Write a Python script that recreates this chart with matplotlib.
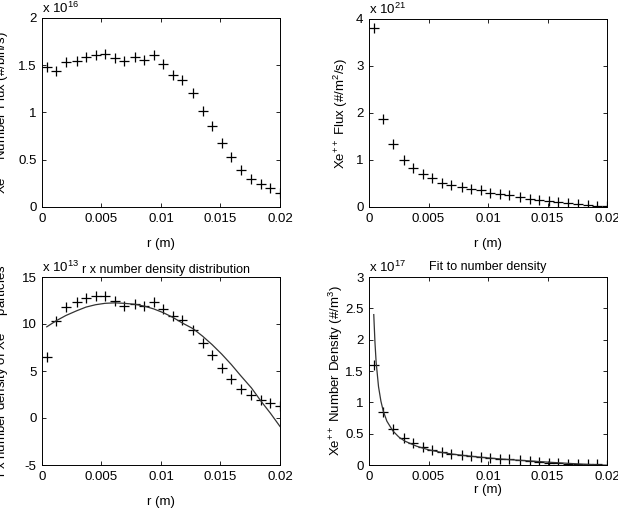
import matplotlib
matplotlib.use("Agg")
import matplotlib.pyplot as plt
from matplotlib.ticker import FuncFormatter

plt.rcParams['font.family'] = ['Liberation Sans', 'DejaVu Sans']
plt.rcParams['mathtext.fontset'] = 'custom'
plt.rcParams['mathtext.rm'] = 'Liberation Sans'
plt.rcParams['mathtext.it'] = 'Liberation Sans:italic'

# radial positions (m)
r = [0.0004, 0.0012, 0.0020, 0.0029, 0.0037, 0.0045, 0.0053, 0.0061, 0.0069,
     0.0078, 0.0086, 0.0094, 0.0102, 0.0110, 0.0118, 0.0127, 0.0135, 0.0143,
     0.0151, 0.0159, 0.0167, 0.0176, 0.0184, 0.0192, 0.0200]

# number flux, x 1e16 (#/bin/s)
number_flux = [1.48, 1.44, 1.53, 1.54, 1.59, 1.61, 1.62, 1.58, 1.55, 1.59, 1.56,
               1.61, 1.51, 1.40, 1.34, 1.21, 1.02, 0.86, 0.68, 0.53, 0.39, 0.30,
               0.24, 0.20, 0.15]

# flux, x 1e21 (#/m^2/s)
flux = [3.80, 1.87, 1.33, 1.00, 0.83, 0.70, 0.61, 0.52, 0.46, 0.43, 0.38, 0.36,
        0.30, 0.28, 0.25, 0.21, 0.17, 0.15, 0.12, 0.10, 0.08, 0.06, 0.04, 0.02, 0.02]

# r x number density, x 1e13
r_density = [6.5, 10.3, 11.8, 12.3, 12.8, 13.0, 13.0, 12.4, 11.9, 12.1, 11.9,
             12.3, 11.6, 10.9, 10.4, 9.4, 8.0, 6.7, 5.3, 4.1, 3.1, 2.4, 1.9, 1.6, 1.3]
# fitted r x number density curve, x 1e13
r_density_fit = [9.7, 10.35, 10.9, 11.4, 11.8, 12.05, 12.2, 12.25, 12.2, 12.1,
                 11.9, 11.6, 11.2, 10.7, 10.1, 9.5, 8.7, 7.8, 6.8, 5.7, 4.5,
                 3.2, 1.8, 0.5, -0.9]

# number density, x 1e17 (#/m^3)
density = [1.60, 0.84, 0.58, 0.43, 0.35, 0.29, 0.24, 0.20, 0.17, 0.155, 0.14,
           0.13, 0.115, 0.10, 0.09, 0.075, 0.06, 0.047, 0.035, 0.026, 0.019,
           0.014, 0.010, 0.008, 0.006]
# fitted number density curve
r_fit = [0.0004, 0.0005, 0.0006, 0.0008, 0.0010, 0.0012, 0.0015, 0.0020, 0.0025,
         0.0030, 0.0040, 0.0050, 0.0060, 0.0070, 0.0080, 0.0090, 0.0100, 0.0110,
         0.0120, 0.0130, 0.0140, 0.0150, 0.0160, 0.0170, 0.0180, 0.0190, 0.0200]
density_fit = [2.40, 1.96, 1.64, 1.25, 1.02, 0.86, 0.70, 0.545, 0.448, 0.382,
               0.30, 0.243, 0.204, 0.174, 0.151, 0.131, 0.113, 0.097, 0.083,
               0.071, 0.059, 0.046, 0.035, 0.0235, 0.013, 0.004, -0.0045]

xticks = [0, 0.005, 0.01, 0.015, 0.02]

fig = plt.figure(figsize=(6.18, 5.08), dpi=100)
W, H = 618.0, 508.0

def make_ax(l, r_, t, b):
    return fig.add_axes([l / W, 1 - b / H, (r_ - l) / W, (b - t) / H])

ax1 = make_ax(42, 280, 18, 207)
ax2 = make_ax(369, 607, 19, 207)
ax3 = make_ax(42, 280, 277, 465)
ax4 = make_ax(369, 607, 277, 465)

fmt = FuncFormatter(lambda v, p: '%g' % round(v, 6))
FS = 9.5
TFS = 9

def style(ax, yticks, ylim, exp):
    ax.set_xlim(0, 0.02)
    ax.set_ylim(*ylim)
    ax.set_xticks(xticks)
    ax.set_yticks(yticks)
    ax.xaxis.set_major_formatter(fmt)
    ax.yaxis.set_major_formatter(fmt)
    ax.tick_params(direction='in', top=True, right=True, length=3, width=0.6,
                   labelsize=FS, pad=4)
    for s in ax.spines.values():
        s.set_linewidth(0.7)
    ax.text(0, 1.008, r'x 10$^{%d}$' % exp, transform=ax.transAxes,
            ha='left', va='bottom', fontsize=FS)

mk = dict(marker='+', linestyle='none', color='black', markersize=7.5, markeredgewidth=0.9)

ax1.plot(r, number_flux, **mk)
style(ax1, [0, 0.5, 1, 1.5, 2], (0, 2), 16)
ax1.set_xlabel('r (m)', fontsize=FS, labelpad=10)
ax1.set_ylabel(r'Xe$^{++}$ Number Flux (#/bin/s)', fontsize=FS)
ax1.yaxis.set_label_coords(-0.128, 0.5)

ax2.plot(r, flux, **mk)
style(ax2, [0, 1, 2, 3, 4], (0, 4), 21)
ax2.set_xlabel('r (m)', fontsize=FS, labelpad=10)
ax2.set_ylabel(r'Xe$^{++}$ Flux (#/m$^2$/s)', fontsize=FS)
ax2.yaxis.set_label_coords(-0.08, 0.5)

ax3.plot(r, r_density, **mk)
ax3.plot(r, r_density_fit, color='#333333', linewidth=0.9)
style(ax3, [-5, 0, 5, 10, 15], (-5, 15), 13)
ax3.set_title('r x number density distribution', fontsize=TFS, pad=3, x=0.52)
ax3.set_xlabel('r (m)', fontsize=FS, labelpad=10)
ax3.set_ylabel(r'r x number density of Xe$^{++}$ particles', fontsize=FS)
ax3.yaxis.set_label_coords(-0.128, 0.5)

ax4.plot(r, density, **mk)
ax4.plot(r_fit, density_fit, color='#333333', linewidth=0.9)
style(ax4, [0, 0.5, 1, 1.5, 2, 2.5, 3], (0, 3), 17)
ax4.set_title('Fit to number density', fontsize=TFS, pad=5)
ax4.set_xlabel('r (m)', fontsize=FS, labelpad=1)
ax4.set_ylabel(r'Xe$^{++}$ Number Density (#/m$^3$)', fontsize=FS)
ax4.yaxis.set_label_coords(-0.10, 0.5)

fig.savefig('out.png', dpi=100)
